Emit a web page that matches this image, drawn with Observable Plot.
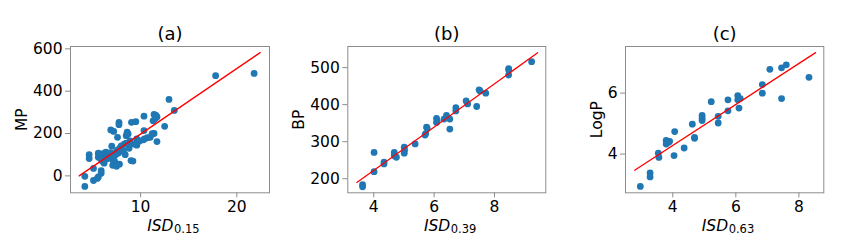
<!DOCTYPE html>
<html>
<head>
<meta charset="utf-8">
<script src="https://cdn.jsdelivr.net/npm/d3@7"></script>
<script src="https://cdn.jsdelivr.net/npm/@observablehq/plot@0.6"></script>
<style>
  body { margin: 0; background: #fff; }
  #wrap { position: relative; width: 862px; height: 240px; overflow: hidden; }
  #wrap svg { position: absolute; top: 0; font-family: "DejaVu Sans", sans-serif; }
</style>
</head>
<body>
<div id="wrap"></div>
<script>
// ---- data ----
const titles = ["(a)", "(b)", "(c)"];
const yLabels = ["MP", "BP", "LogP"];
const subscripts = ["0.15", "0.39", "0.63"];

const mpPoints = [
  [4.2,-50],[4.2,-2],[4.65,100],[4.65,82],[5.1,35],[5.1,-22],[5.5,-12],[5.6,-5],[5.9,25],[5.9,12],
  [5.6,107],[5.6,88],[5.7,95],[5.9,100],[6.2,107],[6.3,92],[6.4,112],[6.6,98],[6.8,96],[6.9,110],
  [7.0,88],[7.1,75],[7.2,92],[7.25,57],[7.3,68],[7.4,100],[7.5,115],[7.6,122],[7.7,108],[7.8,128],
  [7.9,135],[8.0,142],[8.1,118],[8.3,150],[8.5,155],[8.65,151],[8.9,165],[9.0,72],[9.2,70],[7.1,50],
  [7.5,45],[7.8,55],[6.9,217],[7.2,210],[7.75,252],[7.75,242],[7.6,182],[8.5,190],[8.6,206],[8.7,198],
  [9.05,253],[9.5,256],[9.6,175],[9.7,160],[9.6,145],[10.35,282],[10.35,214],[10.4,175],[10.7,180],[11.0,182],
  [11.2,199],[11.4,200],[11.7,162],[11.4,290],[11.5,270],[11.7,278],[11.3,260],[11.6,285],[12.5,234],[12.95,361],
  [13.5,309],[17.8,473],[21.8,484],[8.2,120],[8.8,130],[9.3,150],[7.0,140],[6.5,80],[6.0,70],[8.4,100],
  [9.9,165],[10.3,170],[6.2,60],[5.9,78]
];
const bpPoints = [
  [3.63,184],[3.63,178],[4.01,271],[4.01,219],[4.34,245],[4.34,240],[4.68,271],[4.68,262],[4.75,258],[5.01,285],
  [5.01,269],[5.02,277],[5.37,294],[5.70,318],[5.72,322],[5.75,339],[5.77,336],[6.08,363],[6.08,352],[6.1,357],
  [6.33,361],[6.41,371],[6.52,361],[6.52,334],[6.72,392],[6.72,383],[7.06,410],[7.11,402],[7.41,395],[7.49,440],
  [7.52,437],[7.71,431],[8.47,494],[8.47,480],[8.47,497],[9.23,516]
];
const logpPoints = [
  [2.97,2.94],[3.28,3.38],[3.28,3.25],[3.54,4.03],[3.56,3.89],[3.79,4.45],[3.79,4.33],[3.87,4.39],[3.9,4.42],[4.04,3.95],
  [4.06,4.74],[4.36,4.20],[4.62,4.98],[4.69,4.52],[4.69,4.55],[4.93,5.27],[4.93,5.18],[4.93,5.10],[5.22,5.72],[5.44,5.24],
  [5.44,5.02],[5.75,5.78],[5.75,5.42],[6.06,5.92],[6.06,5.78],[6.14,5.82],[6.10,5.51],[6.84,6.28],[6.84,6.00],[7.08,6.78],
  [7.45,6.83],[7.45,5.82],[7.60,6.93],[8.32,6.52]
];
// regression line endpoints
const mpFit = [[3.61, 0], [22.43, 582]];
const bpFit = [[3.44, 190], [9.43, 540]];
const logpFit = [[2.79, 3.47], [8.53, 7.33]];

const xTicksList = [[10, 20], [4, 6, 8], [4, 6, 8]];
const yTicksList = [[0, 200, 400, 600], [200, 300, 400, 500], [4, 6]];
const xDomains = [[2.71, 23.4], [3.14, 9.70], [2.50, 8.79]];
const yDomains = [[-80, 611], [162, 557], [2.73, 7.53]];

// ---- layout ----
const panels = [
  {left: 0,   width: 287, ml: 70,   mr: 18,   ylabDx: -48},
  {left: 287, width: 285, ml: 60.3, mr: 26.7, ylabDx: -49},
  {left: 572, width: 290, ml: 53,   mr: 38.7, ylabDx: -28}
];
const pointSets = [mpPoints, bpPoints, logpPoints];
const fits = [mpFit, bpFit, logpFit];
const gray = "#8c8c8c";
const wrap = document.getElementById("wrap");

panels.forEach((p, i) => {
  const chart = Plot.plot({
    width: p.width,
    height: 240,
    marginLeft: p.ml,
    marginRight: p.mr,
    marginTop: 46,
    marginBottom: 47.7,
    style: {fontFamily: "DejaVu Sans, sans-serif", color: "#000", background: "transparent", overflow: "visible"},
    x: {domain: xDomains[i]},
    y: {domain: yDomains[i]},
    marks: [
      Plot.frame({stroke: gray, strokeWidth: 1}),
      Plot.axisX({ticks: xTicksList[i], tickSize: 5, tickPadding: 3, fontSize: 15.5, stroke: gray, fill: "#000", label: null, tickFormat: d => String(d)}),
      Plot.axisY({ticks: yTicksList[i], tickSize: 5, tickPadding: 3, fontSize: 15.5, stroke: gray, fill: "#000", label: null, tickFormat: d => String(d)}),
      Plot.dot(pointSets[i], {x: d => d[0], y: d => d[1], r: 3.4, fill: "#1f77b4", stroke: "none"}),
      Plot.line(fits[i], {x: d => d[0], y: d => d[1], stroke: "red", strokeWidth: 1.3}),
      Plot.text([titles[i]], {text: d => d, frameAnchor: "top", dy: -12, fontSize: 18, lineAnchor: "middle", fill: "#000"}),
      Plot.text([yLabels[i]], {text: d => d, frameAnchor: "left", dx: p.ylabDx, rotate: -90, fontSize: 15.5, textAnchor: "middle", lineAnchor: "middle", fill: "#000"}),
      Plot.text(["ISD"], {text: d => d, frameAnchor: "bottom", dx: 3.5, dy: 38, fontSize: 15.5, fontStyle: "italic", textAnchor: "end", lineAnchor: "bottom", fill: "#000"}),
      Plot.text([subscripts[i]], {text: d => d, frameAnchor: "bottom", dx: 4, dy: 40, fontSize: 11.5, textAnchor: "start", lineAnchor: "bottom", fill: "#000"})
    ]
  });
  chart.style.left = p.left + "px";
  wrap.appendChild(chart);
});
</script>
</body>
</html>
